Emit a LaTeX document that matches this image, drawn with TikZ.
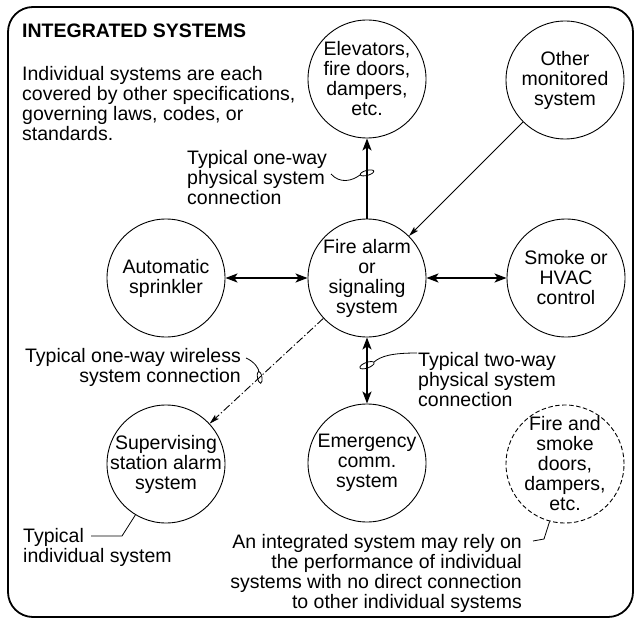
\documentclass[tikz,border=0pt]{standalone}
\usepackage{fontspec}
\setmainfont{Liberation Sans}
\usetikzlibrary{arrows.meta}
\begin{document}
\begin{tikzpicture}[x=1pt,y=-1pt,font=\fontsize{19.5}{20}\selectfont,
    sys/.style={draw,circle,line width=0.9pt,minimum size=118pt,inner sep=0pt},
    lbl/.style={inner sep=0pt,align=center},
    note/.style={inner sep=0pt},
    link/.style={line width=1.8pt,>={Stealth[length=12pt,width=9pt,inset=3pt]}},
    wire/.style={line width=0.9pt,-{Stealth[length=10pt,width=5.5pt,inset=2pt]}},
    leader/.style={line width=0.8pt}]
  \useasboundingbox (0,0) rectangle (639,620);
  \draw[line width=1.8pt,rounded corners=25pt] (8,7) rectangle (633,617);

  % title and remark
  \node[note,anchor=north west,font=\fontsize{19.5}{20}\selectfont\bfseries] (title) at (22,24) {INTEGRATED SYSTEMS};
  \node[note,anchor=north west,align=left] (cover) at (22,66) {Individual systems are each\\covered by other specifications,\\governing laws, codes, or\\standards.};

  % individual systems
  \node[sys] (elev)  at (367,79)  {};
  \node[sys] (other) at (565,80)  {};
  \node[sys] (fire)  at (367,278) {};
  \node[sys] (spr)   at (166,278) {};
  \node[sys] (smoke) at (566,278) {};
  \node[sys] (sup)   at (166,464) {};
  \node[sys] (emer)  at (367,463) {};
  \node[sys,dash pattern=on 4.5pt off 2.5pt] (doors) at (565,464) {};

  \node[lbl] (elev-t)  at (elev)  {Elevators,\\fire doors,\\dampers,\\etc.};
  \node[lbl] (other-t) at (other) {Other\\monitored\\system};
  \node[lbl] (fire-t)  at (fire)  {Fire alarm\\or\\signaling\\system};
  \node[lbl] (spr-t)   at (spr)   {Automatic\\sprinkler};
  \node[lbl] (smoke-t) at (smoke) {Smoke or\\HVAC\\control};
  \node[lbl] (sup-t)   at (sup)   {Supervising\\station alarm\\system};
  \node[lbl] (emer-t)  at (emer)  {Emergency\\comm.\\system};
  \node[lbl] (doors-t) at (doors) {Fire and\\smoke\\doors,\\dampers,\\etc.};

  % connections
  \draw[link,<->] (spr) -- (fire);
  \draw[link,<->] (fire) -- (smoke);
  \draw[link,->] (fire) -- (elev) coordinate[pos=0.57] (w1);
  \draw[link,<->] (fire) -- (emer) coordinate[pos=0.42] (w2);
  \draw[wire] (other) -- (fire);
  \draw[wire,dash pattern=on 8pt off 2.5pt on 1.2pt off 2.5pt] (fire) -- (sup) coordinate[pos=0.56] (w3);

  \draw[leader] (w1) ellipse [x radius=7pt,y radius=2.5pt,rotate=15];
  \draw[leader] (w2) ellipse [x radius=7.5pt,y radius=2.8pt,rotate=20];
  \draw[leader] (w3) ellipse [x radius=2.2pt,y radius=6pt,rotate=10];

  % callouts
  \node[note,anchor=north west,align=left] (oneway) at (187,150) {Typical one-way\\physical system\\connection};
  \draw[leader] (331,174) .. controls (340,184) and (352,181) .. (360,175);

  \node[note,anchor=north east,align=right] (wireless) at (241,348) {Typical one-way wireless\\system connection};
  \draw[leader] (246,358) .. controls (255,362) and (259,369) .. (259,372);

  \node[note,anchor=north west,align=left] (twoway) at (418,352) {Typical two-way\\physical system\\connection};
  \draw[leader] (374,362) .. controls (381,356) and (392,353) .. (417,353);

  \node[note,anchor=north west,align=left] (single) at (23,528) {Typical\\individual system};
  \draw[leader] (91,536) -- (122,536) -- (sup.239);

  \node[note,anchor=north east,align=right] (relies) at (522,534) {An integrated system may rely on\\the performance of individual\\systems with no direct connection\\to other individual systems};
  \draw[leader] (533,541) -- (544,539) -- (doors.255);
\end{tikzpicture}
\end{document}
